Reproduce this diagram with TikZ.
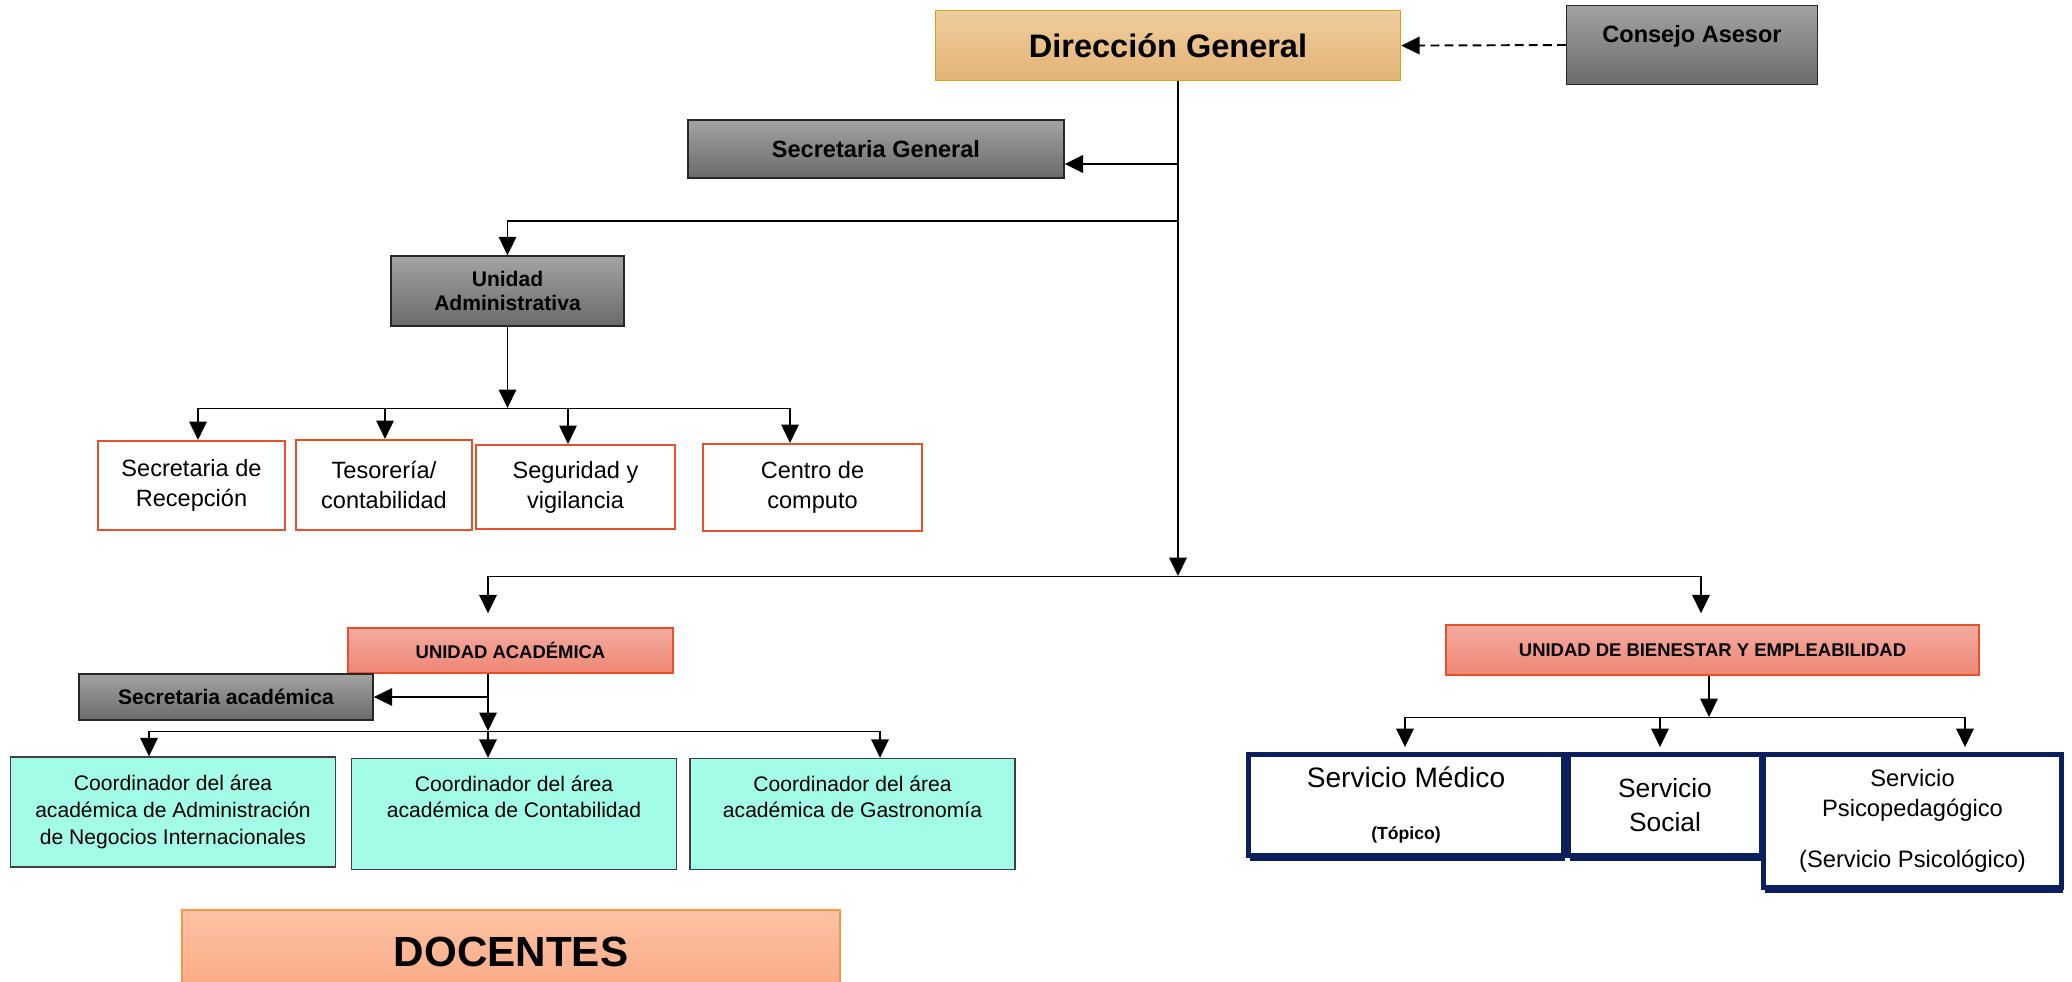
\documentclass[tikz,border=0pt]{standalone}
\usepackage{fontspec}
\setmainfont{Liberation Sans}
\usetikzlibrary{arrows.meta,shadows}

\definecolor{grisA}{HTML}{A3A3A3}
\definecolor{grisB}{HTML}{6A6A6A}
\definecolor{oroA}{HTML}{F0CD9E}
\definecolor{oroB}{HTML}{E2B375}
\definecolor{oroBorde}{HTML}{D9A21B}
\definecolor{rosaA}{HTML}{F3ABA1}
\definecolor{rosaB}{HTML}{EF8674}
\definecolor{rojo}{HTML}{E8502A}
\definecolor{aqua}{HTML}{A2FCE8}
\definecolor{salmonA}{HTML}{FDC2A3}
\definecolor{salmonB}{HTML}{FBA985}
\definecolor{naranjaBorde}{HTML}{F79646}
\definecolor{marino}{HTML}{0A1F5C}

\newcommand{\tam}[2]{\fontsize{#1}{#2}\selectfont}

\begin{document}
\begin{tikzpicture}[x=0.2mm, y=-0.2mm,
    wh/.style 2 args={minimum width=#1*0.2mm, minimum height=#2*0.2mm},
    gris/.style={draw=black!85, line width=0.8pt, top color=grisA, bottom color=grisB, align=center, inner sep=0pt},
    caja/.style={draw=rojo, line width=1.2pt, fill=white, align=center, inner sep=0pt, font=\tam{13.4}{17}},
    unidad/.style={draw=rojo, line width=0.8pt, top color=rosaA, bottom color=rosaB, inner sep=0pt, font=\bfseries\tam{10.5}{12}},
    coord/.style={draw=black!75, line width=0.8pt, fill=aqua, align=center, inner sep=0pt, font=\tam{12}{15.2}},
    serv/.style={draw=marino, line width=2.8pt, fill=white, align=center, inner sep=0pt,
        drop shadow={shadow xshift=1pt, shadow yshift=-3pt, fill=marino, opacity=1}},
    flecha/.style={-{Triangle[width=10pt,length=10.5pt]}, line width=0.8pt},
]
    \useasboundingbox (0,0) rectangle (2072,981);

    % Dirección y consejo
    \node[draw=oroBorde, line width=0.8pt, top color=oroA, bottom color=oroB, wh={465}{70}, font=\bfseries\tam{18.5}{22}] (dir) at (1168,45.6) {Dirección General};
    \node[gris, wh={251}{79}, font=\bfseries\tam{13.4}{16}, text height=9.7pt, text depth=12.7pt] (consejo) at (1692,45) {Consejo Asesor};
    \node[gris, wh={376}{58}, font=\bfseries\tam{13.4}{16}] (secgen) at (876,149) {Secretaria General};

    % Unidad administrativa
    \node[gris, wh={233}{70}, font=\bfseries\tam{12}{13.5}] (uadm) at (507.5,291) {Unidad\\Administrativa};
    \node[caja, wh={187}{89}] (recep) at (191.5,485.5) {Secretaria de\\Recepción};
    \node[caja, wh={176}{90}] (tesor) at (384,485) {Tesorería/\\contabilidad};
    \node[caja, wh={199}{84}] (segur) at (575.5,487) {Seguridad y\\vigilancia};
    \node[caja, wh={219}{87}] (centro) at (812.5,487.5) {Centro de\\computo};

    % Unidad académica
    \node[unidad, wh={325}{45}] (uacad) at (510.5,650.5) {UNIDAD ACADÉMICA};
    \node[gris, wh={294}{46}, font=\bfseries\tam{12}{14}] (secacad) at (226,697) {Secretaria académica};
    \node[coord, wh={325}{110}] (coord1) at (173,812) {Coordinador del área\\académica de Administración\\de Negocios Internacionales};
    \node[coord, wh={325}{111}] (coord2) at (514,814) {Coordinador del área\\académica de Contabilidad\\ \strut};
    \node[coord, wh={325}{111}] (coord3) at (852.5,814) {Coordinador del área\\académica de Gastronomía\\ \strut};
    \node[draw=naranjaBorde, line width=0.8pt, top color=salmonA, bottom color=salmonB, wh={658}{84}, font=\bfseries\tam{24}{28}] (docentes) at (511,952) {DOCENTES};

    % Unidad de bienestar
    \node[unidad, wh={533}{50}] (ubien) at (1712.5,650) {UNIDAD DE BIENESTAR Y EMPLEABILIDAD};
    \node[serv, wh={315}{101}, font=\tam{16}{19}] (smed) at (1406,805) {Servicio Médico\\[11pt]\bfseries\tam{10}{12}(Tópico)};
    \node[serv, wh={193}{101}, font=\tam{15}{19}] (ssoc) at (1665,805) {Servicio\\Social};
    \node[serv, wh={298}{133}, font=\tam{13.5}{17}] (spsi) at (1912.5,821) {Servicio\\Psicopedagógico\\[12pt](Servicio Psicológico)};

    % Puntos de las lineas
    \coordinate (t1) at (1178,164);
    \coordinate (t2) at (1178,221);
    \coordinate (t3) at (1178,576);
    \coordinate (ab1) at (198,408);
    \coordinate (ab2) at (385,408);
    \coordinate (ab3) at (568,408);
    \coordinate (ab4) at (790,408);
    \coordinate (m1) at (488,576);
    \coordinate (m2) at (1701,576);
    \coordinate (c1) at (149,731);
    \coordinate (c2) at (488,731);
    \coordinate (c3) at (880,731);
    \coordinate (b0) at (1709,717);
    \coordinate (b1) at (1405,717);
    \coordinate (b2) at (1660,717);
    \coordinate (b3) at (1965,717);

    % Lineas
    \draw[flecha, dashed, dash pattern=on 5pt off 3pt, line width=1.1pt] (consejo.west) -- (dir.east);
    \draw[flecha] (dir.south -| t1) -- (t3);
    \draw[flecha, line width=1.3pt] (t1) -- (secgen.east |- t1);
    \draw[flecha] (t2) -| (uadm.north);

    \draw[flecha] (uadm) -- (uadm |- ab1);
    \draw (ab1) -- (ab4);
    \foreach \c/\n in {ab1/recep, ab2/tesor, ab3/segur, ab4/centro}
        \draw[flecha] (\c) -- (\c |- \n.north);

    \draw (m1) -- (m2);
    \draw[flecha, shorten >=2.8mm] (m1) -- (m1 |- uacad.north);
    \draw[flecha, shorten >=2.2mm] (m2) -- (m2 |- ubien.north);

    \draw[flecha] (c2 |- uacad.south) -- (c2);
    \draw[flecha] (c2 |- secacad.east) -- (secacad.east);
    \draw (c1) -- (c3);
    \foreach \c/\n in {c1/coord1, c2/coord2, c3/coord3}
        \draw[flecha] (\c) -- (\c |- \n.north);

    \draw[flecha] (b0 |- ubien.south) -- (b0);
    \draw (b1) -- (b3);
    \foreach \c/\n in {b1/smed, b2/ssoc, b3/spsi}
        \draw[flecha, shorten >=1mm] (\c) -- (\c |- \n.north);
\end{tikzpicture}
\end{document}
